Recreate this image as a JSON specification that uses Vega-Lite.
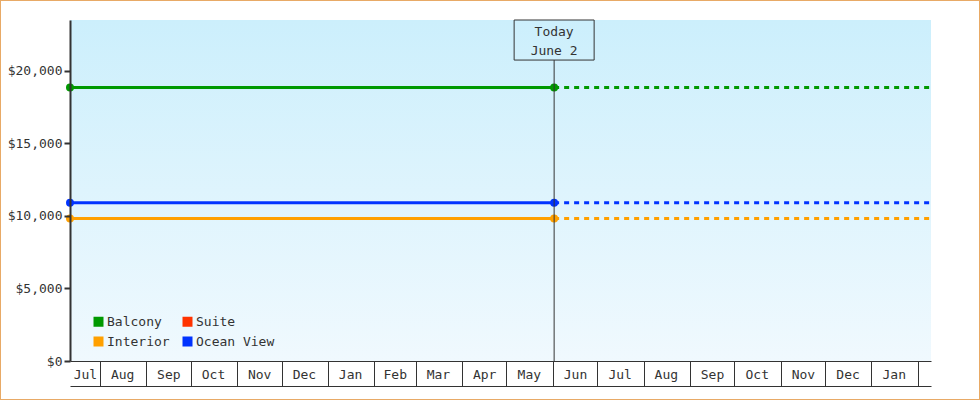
{
  "$schema": "https://vega.github.io/schema/vega-lite/v6.json",
  "autosize": {"type": "none"},
  "padding": 0,
  "width": 980,
  "height": 400,
  "background": "white",
  "config": {
    "font": "DejaVu Sans Mono",
    "view": {"stroke": "#e8aa66", "strokeWidth": 2, "fill": "white"},
    "axis": {"labelFont": "DejaVu Sans Mono", "labelFontSize": 13, "labelColor": "#333333", "grid": false}
  },
  "data": {
    "values": [
      {"room": "Balcony", "date": "2024-07-12", "price": 18850, "phase": "actual"},
      {"room": "Balcony", "date": "2025-06-02", "price": 18850, "phase": "actual"},
      {"room": "Balcony", "date": "2025-06-02", "price": 18850, "phase": "forecast"},
      {"room": "Balcony", "date": "2026-02-10", "price": 18850, "phase": "forecast"},
      {"room": "Ocean View", "date": "2024-07-12", "price": 10900, "phase": "actual"},
      {"room": "Ocean View", "date": "2025-06-02", "price": 10900, "phase": "actual"},
      {"room": "Ocean View", "date": "2025-06-02", "price": 10900, "phase": "forecast"},
      {"room": "Ocean View", "date": "2026-02-10", "price": 10900, "phase": "forecast"},
      {"room": "Interior", "date": "2024-07-12", "price": 9820, "phase": "actual"},
      {"room": "Interior", "date": "2025-06-02", "price": 9820, "phase": "actual"},
      {"room": "Interior", "date": "2025-06-02", "price": 9820, "phase": "forecast"},
      {"room": "Interior", "date": "2026-02-10", "price": 9820, "phase": "forecast"}
    ]
  },
  "resolve": {"axis": {"x": "independent"}, "legend": {"fill": "independent", "stroke": "independent"}},
  "layer": [
    {
      "mark": {"type": "rect", "color": {"gradient": "linear", "x1": 0, "y1": 0, "x2": 0, "y2": 1,
        "stops": [{"offset": 0, "color": "#cceffc"}, {"offset": 1, "color": "#f0f9fe"}]}},
      "encoding": {
        "x": {"datum": {"year": 2024, "month": 7, "date": 12, "utc": true}, "type": "temporal", "axis": null},
        "x2": {"datum": {"year": 2026, "month": 2, "date": 10, "utc": true}},
        "y": {"datum": 0, "type": "quantitative",
          "scale": {"domain": [0, 23500], "range": [361, 20], "nice": false, "zero": true, "padding": 0},
          "axis": {"offset": -70, "zindex": 1, "title": null, "values": [0, 5000, 10000, 15000, 20000], "format": "$,.0f",
            "domainColor": "#333333", "domainWidth": 2, "tickColor": "#333333", "tickWidth": 2, "tickSize": 6, "labelPadding": 2}},
        "y2": {"datum": 23500}
      }
    },
    {
      "transform": [{"filter": "datum.phase === 'actual'"}],
      "mark": {"type": "line", "strokeWidth": 3},
      "encoding": {
        "x": {"field": "date", "type": "temporal",
          "scale": {"type": "utc", "nice": false, "padding": 0, "range": [70, 931], "domain": [{"year": 2024, "month": 7, "date": 12, "utc": true}, {"year": 2026, "month": 2, "date": 10, "utc": true}]},
          "axis": {"orient": "bottom", "offset": -39, "zindex": 1, "title": null, "labels": false, "ticks": true, "tickSize": 25, "tickWidth": 1, "tickColor": "#333333",
            "domain": true, "domainColor": "#333333", "domainWidth": 1,
            "values": [
              {"year": 2024, "month": 8, "date": 1, "utc": true},
              {"year": 2024, "month": 9, "date": 1, "utc": true},
              {"year": 2024, "month": 10, "date": 1, "utc": true},
              {"year": 2024, "month": 11, "date": 1, "utc": true},
              {"year": 2024, "month": 12, "date": 1, "utc": true},
              {"year": 2025, "month": 1, "date": 1, "utc": true},
              {"year": 2025, "month": 2, "date": 1, "utc": true},
              {"year": 2025, "month": 3, "date": 1, "utc": true},
              {"year": 2025, "month": 4, "date": 1, "utc": true},
              {"year": 2025, "month": 5, "date": 1, "utc": true},
              {"year": 2025, "month": 6, "date": 1, "utc": true},
              {"year": 2025, "month": 7, "date": 1, "utc": true},
              {"year": 2025, "month": 8, "date": 1, "utc": true},
              {"year": 2025, "month": 9, "date": 1, "utc": true},
              {"year": 2025, "month": 10, "date": 1, "utc": true},
              {"year": 2025, "month": 11, "date": 1, "utc": true},
              {"year": 2025, "month": 12, "date": 1, "utc": true},
              {"year": 2026, "month": 1, "date": 1, "utc": true},
              {"year": 2026, "month": 2, "date": 1, "utc": true}
            ]}},
        "y": {"field": "price", "type": "quantitative",
          "axis": {"offset": -70, "zindex": 1, "title": null, "values": [0, 5000, 10000, 15000, 20000], "format": "$,.0f",
            "domainColor": "#333333", "domainWidth": 2, "tickColor": "#333333", "tickWidth": 2, "tickSize": 6, "labelPadding": 2}},
        "stroke": {"field": "room", "type": "nominal",
          "scale": {"domain": ["Balcony", "Suite", "Interior", "Ocean View"], "range": ["#009900", "#ff3300", "#ffa000", "#0033ff"]},
          "legend": null}
      }
    },
    {
      "transform": [{"filter": "datum.phase === 'forecast'"}],
      "mark": {"type": "line", "strokeWidth": 3, "strokeDash": [5, 5]},
      "encoding": {
        "x": {"field": "date", "type": "temporal",
          "axis": {"orient": "bottom", "offset": -39, "title": null, "ticks": false, "tickSize": 0, "domain": false, "labelPadding": 13, "labelBaseline": "middle",
            "format": "%b", "labelFlush": false, "labelOverlap": false,
            "values": [
              {"year": 2024, "month": 7, "date": 22, "utc": true},
              {"year": 2024, "month": 8, "date": 16, "utc": true},
              {"year": 2024, "month": 9, "date": 16, "utc": true},
              {"year": 2024, "month": 10, "date": 16, "utc": true},
              {"year": 2024, "month": 11, "date": 16, "utc": true},
              {"year": 2024, "month": 12, "date": 16, "utc": true},
              {"year": 2025, "month": 1, "date": 16, "utc": true},
              {"year": 2025, "month": 2, "date": 15, "utc": true},
              {"year": 2025, "month": 3, "date": 16, "utc": true},
              {"year": 2025, "month": 4, "date": 16, "utc": true},
              {"year": 2025, "month": 5, "date": 16, "utc": true},
              {"year": 2025, "month": 6, "date": 16, "utc": true},
              {"year": 2025, "month": 7, "date": 16, "utc": true},
              {"year": 2025, "month": 8, "date": 16, "utc": true},
              {"year": 2025, "month": 9, "date": 16, "utc": true},
              {"year": 2025, "month": 10, "date": 16, "utc": true},
              {"year": 2025, "month": 11, "date": 16, "utc": true},
              {"year": 2025, "month": 12, "date": 16, "utc": true},
              {"year": 2026, "month": 1, "date": 16, "utc": true}
            ]}},
        "y": {"field": "price", "type": "quantitative"},
        "stroke": {"field": "room", "type": "nominal", "legend": null}
      }
    },
    {
      "transform": [{"filter": "datum.phase === 'actual'"}],
      "mark": {"type": "point", "shape": "circle", "filled": true, "size": 64, "opacity": 1},
      "encoding": {
        "x": {"field": "date", "type": "temporal",
          "axis": {"orient": "bottom", "offset": -14, "title": null, "labels": false, "ticks": false, "domain": true, "domainColor": "#333333", "domainWidth": 1}},
        "y": {"field": "price", "type": "quantitative"},
        "fill": {"field": "room", "type": "nominal",
          "scale": {"domain": ["Balcony", "Suite", "Interior", "Ocean View"], "range": ["#009900", "#ff3300", "#ffa000", "#0033ff"]},
          "legend": {"title": null, "orient": "none", "legendX": 92, "legendY": 315, "columns": 2, "direction": "horizontal",
            "symbolType": "square", "symbolSize": 100, "symbolStrokeWidth": 0, "symbolOpacity": 1,
            "labelFont": "DejaVu Sans Mono", "labelFontSize": 13, "labelColor": "#333333", "labelOffset": 2,
            "columnPadding": 11, "rowPadding": 6}}
      }
    },
    {
      "data": {"values": [{"date": "2025-06-02", "label": "Today\nJune 2"}]},
      "layer": [
        {
          "mark": {"type": "rule", "color": "#333333", "strokeWidth": 1},
          "encoding": {
            "x": {"field": "date", "type": "temporal", "axis": null},
            "y": {"datum": 0},
            "y2": {"datum": 20740}
          }
        },
        {
          "mark": {"type": "bar", "width": 80, "fill": null, "fillOpacity": 0, "stroke": "#333333", "strokeWidth": 1},
          "encoding": {
            "x": {"field": "date", "type": "temporal", "axis": null},
            "y": {"datum": 23500},
            "y2": {"datum": 20740}
          }
        },
        {
          "mark": {"type": "text", "font": "DejaVu Sans Mono", "fontSize": 13, "color": "#333333", "align": "center", "baseline": "middle", "lineBreak": "\n", "lineHeight": 18.5, "dy": 12},
          "encoding": {
            "x": {"field": "date", "type": "temporal", "axis": null},
            "y": {"datum": 23500},
            "text": {"field": "label"}
          }
        }
      ]
    }
  ]
}
